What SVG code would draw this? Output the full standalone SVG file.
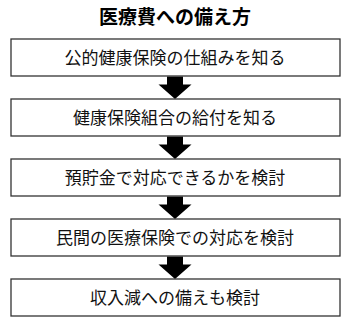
<svg xmlns="http://www.w3.org/2000/svg" width="350" height="326" viewBox="0 0 350 326">
<style>
.box{fill:#fff;stroke:#333;stroke-width:1.3}
.t{font-family:"Noto Sans CJK JP","Noto Sans",sans-serif;font-size:17px;fill:#111;text-anchor:middle}
.title{font-family:"Noto Sans CJK JP","Noto Sans",sans-serif;font-size:19px;font-weight:bold;fill:#000;text-anchor:middle}
.arr{fill:#000}
</style>
<defs>
<path id="a" d="M-8,0 H8 V8 H16.5 L0,22.5 L-16.5,8 H-8 Z"/>
</defs>
<rect width="350" height="326" fill="#fff"/>
<text class="title" x="175" y="24">医療費への備え方</text>
<g id="connectors">
<use href="#a" class="arr" x="175" y="76.5"/>
<use href="#a" class="arr" x="175" y="136.5"/>
<use href="#a" class="arr" x="175" y="196.5"/>
<use href="#a" class="arr" x="175" y="256.5"/>
</g>
<g id="n1"><rect class="box" x="11" y="39" width="329" height="37"/><text class="t" x="175" y="63.5">公的健康保険の仕組みを知る</text></g>
<g id="n2"><rect class="box" x="11" y="99" width="329" height="37"/><text class="t" x="175" y="123.5">健康保険組合の給付を知る</text></g>
<g id="n3"><rect class="box" x="11" y="159" width="329" height="37"/><text class="t" x="175" y="183.5">預貯金で対応できるかを検討</text></g>
<g id="n4"><rect class="box" x="11" y="219" width="329" height="37"/><text class="t" x="175" y="243.5">民間の医療保険での対応を検討</text></g>
<g id="n5"><rect class="box" x="11" y="279" width="329" height="37"/><text class="t" x="175" y="303.5">収入減への備えも検討</text></g>
</svg>
